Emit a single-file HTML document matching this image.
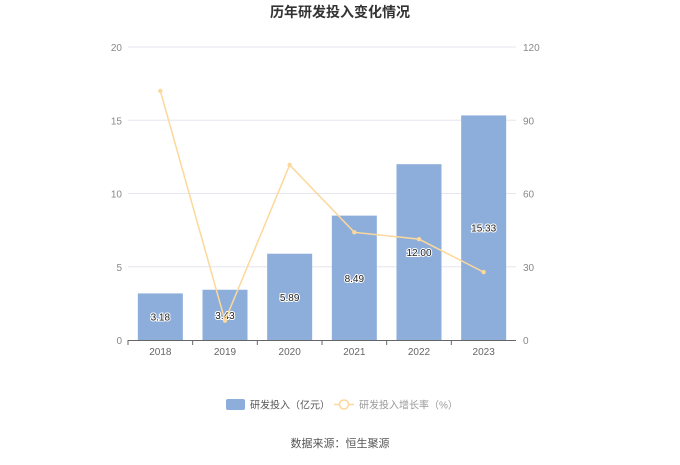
<!DOCTYPE html>
<html><head><meta charset="utf-8"><style>
body{margin:0;background:#fff;}
svg text{font-family:"Liberation Sans","Noto Sans CJK SC",sans-serif;}
</style></head><body>
<svg id="c" width="680" height="460" xmlns="http://www.w3.org/2000/svg">
<text x="340" y="17" text-anchor="middle" font-size="14" font-weight="bold" fill="#333">历年研发投入变化情况</text>
<g id="grid"></g><g id="bars"></g><g id="line"></g><g id="axes"></g>
<g>
<rect x="226" y="399" width="19" height="11" rx="2" fill="#8daedb"/>
<text x="250" y="408.5" font-size="10" fill="#555">研发投入（亿元）</text>
<line x1="334" y1="404.5" x2="354" y2="404.5" stroke="#fcd89a" stroke-width="1.5"/>
<circle cx="344" cy="404.5" r="4.5" fill="#fff" stroke="#fcd89a" stroke-width="1.5"/>
<text x="359" y="408.5" font-size="10" fill="#999">研发投入增长率（%）</text>
</g>
<text x="340" y="447" text-anchor="middle" font-size="11" fill="#555">数据来源：恒生聚源</text>
</svg>
<script>
const categories=["2018","2019","2020","2021","2022","2023"];
const investment=[3.18,3.43,5.89,8.49,12.00,15.33];
const growth=[102.0,7.9,71.7,44.1,41.3,27.8];
const leftTicks=[0,5,10,15,20];
const rightTicks=[0,30,60,90,120];
const NS="http://www.w3.org/2000/svg";
const X0=128,X1=516,Y0=340,Y1=47;
const bw=(X1-X0)/categories.length;
const xc=i=>X0+bw*(i+0.5);
const yl=v=>Y0-(v/20)*(Y0-Y1);
const yr=v=>Y0-(v/120)*(Y0-Y1);
function mk(t,a,p){const e=document.createElementNS(NS,t);for(const k in a)e.setAttribute(k,a[k]);p.appendChild(e);return e;}
const g=document.getElementById('grid'),b=document.getElementById('bars'),l=document.getElementById('line'),ax=document.getElementById('axes');
leftTicks.forEach((v,i)=>{
 if(v>0){const gl=mk('line',{x1:X0,x2:X1,y1:yl(v),y2:yl(v),stroke:'#e6e6f0'},g);
 
 }
 const t=mk('text',{x:X0-6,y:yl(v)+4,'text-anchor':'end','font-size':10,fill:'#888'},ax);t.textContent=v;
 
 
});
rightTicks.forEach(v=>{
 const t=mk('text',{x:X1+7,y:yr(v)+4,'font-size':10,fill:'#888'},ax);t.textContent=v;
 
 
});
const base=mk('line',{x1:X0,x2:X1,y1:Y0+0.5,y2:Y0+0.5,stroke:'#666'},ax);


categories.forEach((c,i)=>{
 const tk=mk('line',{x1:X0+bw*i,x2:X0+bw*i,y1:Y0,y2:Y0+5,stroke:'#666'},ax);
 
 
 const t=mk('text',{x:xc(i),y:Y0+15,'text-anchor':'middle','font-size':10,fill:'#666'},ax);t.textContent=c;
 
 
 const v=investment[i];
 const r=mk('rect',{x:xc(i)-22.5,y:yl(v),width:45,height:Y0-yl(v),fill:'#8daedb'},b);
 
 
 const lt=mk('text',{x:xc(i),y:(yl(v)+Y0)/2+4,'text-anchor':'middle','font-size':10,fill:'#222',stroke:'#fff','stroke-width':2,'paint-order':'stroke'},b);lt.textContent=v.toFixed(2);
 
 
});
const pl=mk('polyline',{points:growth.map((v,i)=>xc(i)+','+yr(v)).join(' '),fill:'none',stroke:'#fcd89a','stroke-width':1.5},l);


growth.forEach((v,i)=>{
 const p=mk('circle',{cx:xc(i),cy:yr(v),r:2.2,fill:'#fcd89a'},l);
 
 
});
</script>
</body></html>
